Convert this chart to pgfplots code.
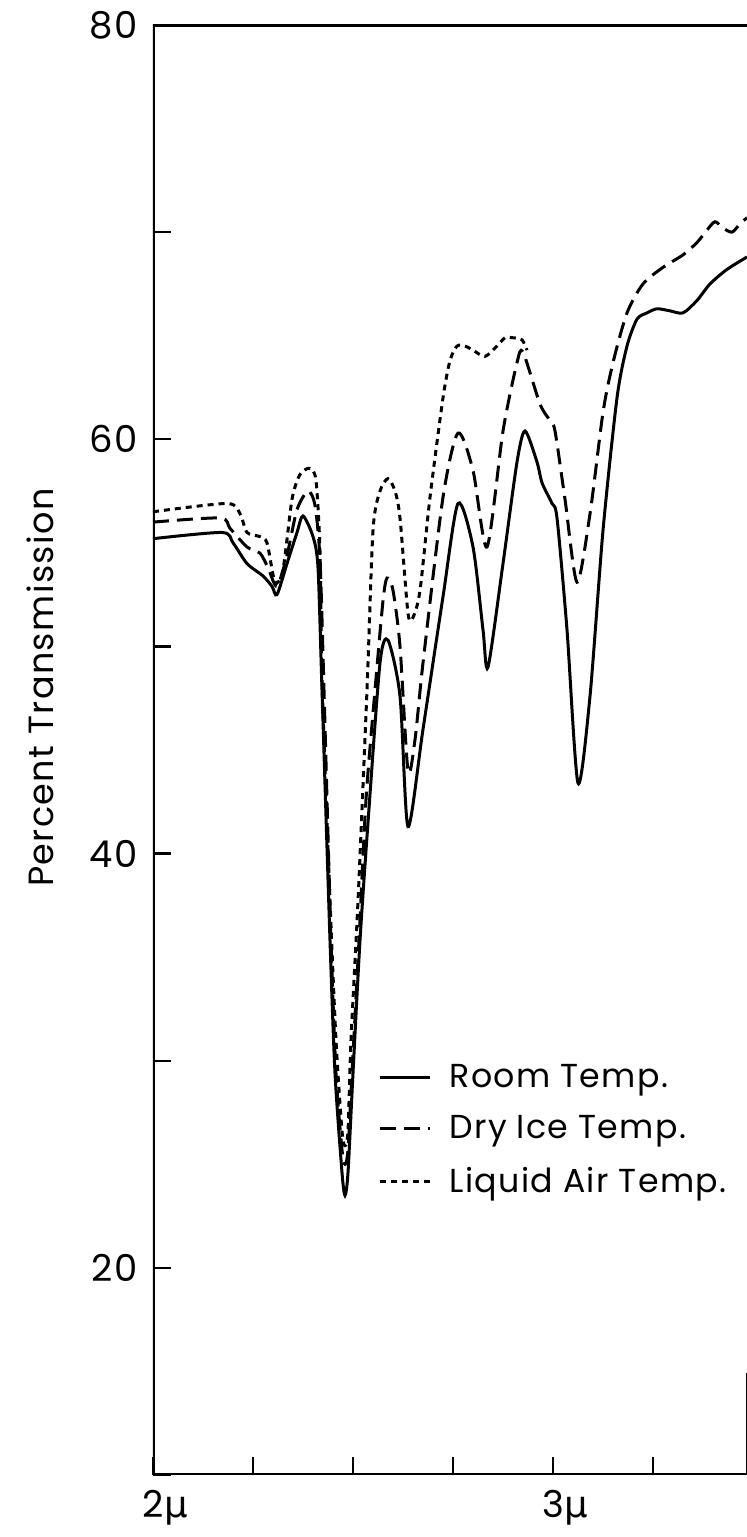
\documentclass[border=0pt]{standalone}
\usepackage{fontspec}
\setmainfont{Poppins}[LetterSpace=4]
\newfontfamily\gfont{DejaVu Sans}
\usepackage{pgfplots}
\pgfplotsset{compat=1.18}

\begin{document}
\begin{tikzpicture}
\begin{axis}[
  name=ax,
  scale only axis,
  width=297pt, height=725pt,
  xmin=2, xmax=3.485, ymin=10, ymax=80,
  axis line style={draw=none},
  tick pos=left,
  tick align=inside,
  major tick length=9pt,
  tick style={line width=1.2pt, black},
  xtick={2,2.25,2.5,2.75,3,3.25},
  xticklabels={\mbox{2\rlap{\kern0.5pt\gfont μ}},,,,\mbox{3\rlap{\kern0.5pt\gfont μ}},},
  ytick={10,20,...,80},
  yticklabels={,\mbox{20},,\mbox{40},,\mbox{60},,\mbox{80}},
  every tick label/.append style={font=\fontsize{18.5}{20}\selectfont},
  yticklabel style={xshift=-4pt},
  xticklabel style={yshift=-4pt},
  ylabel={Percent Transmission},
  ylabel style={at={(axis description cs:-0.19,0.543)}, anchor=center, font=\fontsize{17.5}{19}\selectfont},
  legend style={draw=none, fill=none, at={(axis description cs:0.379,0.286)}, anchor=north west,
    inner sep=0pt, row sep=8.5pt, font=\fontsize{16.6}{19}\selectfont,
    /tikz/every odd column/.append style={column sep=7pt}},
  legend cell align=left,
  legend image code/.code={\draw[#1] (0pt,0pt) -- (25pt,0pt);},
]
% Room Temp.
\addplot[black, line width=1.5pt, smooth, tension=0.45] coordinates {
(2.0,55.2) (2.1725,55.5) (2.2,55.0) (2.235,54.0) (2.275,53.4) (2.2975,52.9) (2.31,52.5)
(2.335,54.0) (2.36,55.5) (2.375,56.3) (2.4,55.3) (2.4125,53.8) (2.4225,47.9) (2.4425,35.8)
(2.455,29.4) (2.4725,24.6) (2.48,23.5) (2.4875,24.6) (2.5,29.4) (2.5175,35.8) (2.5375,41.5)
(2.5675,49.2) (2.5875,50.3) (2.6175,47.6) (2.6375,41.3) (2.675,46.0) (2.725,52.4) (2.7625,56.9)
(2.8,54.8) (2.825,50.8) (2.8375,49.0) (2.875,54.0) (2.91,58.9) (2.93,60.4) (2.96,58.9)
(2.9725,57.9) (2.9975,56.9) (3.01,56.2) (3.035,50.8) (3.0625,43.4) (3.0925,47.6) (3.125,55.6)
(3.16,62.0) (3.185,64.5) (3.21,65.8) (3.235,66.1) (3.26,66.3) (3.2925,66.2) (3.325,66.1)
(3.36,66.7) (3.3925,67.5) (3.435,68.2) (3.485,68.8)
};
\addlegendentry{Room Temp.}
% Dry Ice Temp.
\addplot[black, line width=1.5pt, smooth, tension=0.45, dash pattern=on 8pt off 4pt] coordinates {
(2.0,56.0) (2.1675,56.2) (2.1925,55.7) (2.235,54.8) (2.2675,54.5) (2.2875,53.8) (2.31,52.9)
(2.335,54.4) (2.36,56.6) (2.3875,57.5) (2.405,56.8) (2.4175,54.2) (2.4275,47.9) (2.445,35.8)
(2.4575,29.4) (2.4725,25.7) (2.48,25.0) (2.4875,25.7) (2.4975,29.4) (2.515,35.8) (2.5325,42.6)
(2.555,47.9) (2.575,52.2) (2.585,53.3) (2.6,52.7) (2.6175,50.0) (2.6375,44.0) (2.655,45.5)
(2.675,49.2) (2.725,57.2) (2.7625,60.3) (2.8,58.5) (2.835,54.8) (2.875,60.4) (2.91,63.7)
(2.925,64.2) (2.9675,61.7) (2.9925,60.9) (3.005,60.4) (3.03,57.1) (3.06,53.1) (3.0925,56.4)
(3.125,61.3) (3.15,63.7) (3.185,66.1) (3.225,67.5) (3.275,68.3) (3.325,68.9) (3.36,69.5)
(3.385,70.1) (3.405,70.5) (3.425,70.2) (3.4475,70.0) (3.4675,70.4) (3.485,70.7)
};
\addlegendentry{Dry Ice Temp.}
% Liquid Air Temp.
\addplot[black, line width=1.5pt, smooth, tension=0.45, dash pattern=on 3pt off 2.5pt] coordinates {
(2.0,56.5) (2.185,56.9) (2.2175,56.4) (2.235,55.5) (2.2675,55.3) (2.285,55.0) (2.305,53.1)
(2.325,53.7) (2.3475,57.1) (2.3675,58.3) (2.3925,58.6) (2.4075,58.0) (2.4175,54.6) (2.4225,48.4)
(2.4425,37.7) (2.4575,31.0) (2.4725,26.6) (2.48,25.9) (2.4875,26.6) (2.495,31.0) (2.5125,37.7)
(2.535,47.9) (2.55,55.6) (2.5675,57.5) (2.5875,58.1) (2.605,57.5) (2.6175,56.2) (2.6375,51.6)
(2.65,51.4) (2.6675,52.7) (2.6925,57.2) (2.725,62.0) (2.7425,63.8) (2.76,64.5) (2.78,64.5)
(2.8,64.3) (2.83,64.0) (2.86,64.5) (2.88,64.9) (2.9,64.9) (2.9225,64.8) (2.935,64.3)
};
\addlegendentry{Liquid Air Temp.}
\draw[line width=1.8pt, line cap=round, line join=round]
  (rel axis cs:1,1) -- (rel axis cs:0,1) -- (rel axis cs:0,0) -- (rel axis cs:1,0);
\draw[line width=1pt] (rel axis cs:1,0) -- (rel axis cs:1,0.07);
\end{axis}
\pgfresetboundingbox
\path[use as bounding box] ([xshift=-76.5pt, yshift=-31pt]ax.south west) rectangle ([yshift=12.5pt]ax.north east);
\end{tikzpicture}
\end{document}
